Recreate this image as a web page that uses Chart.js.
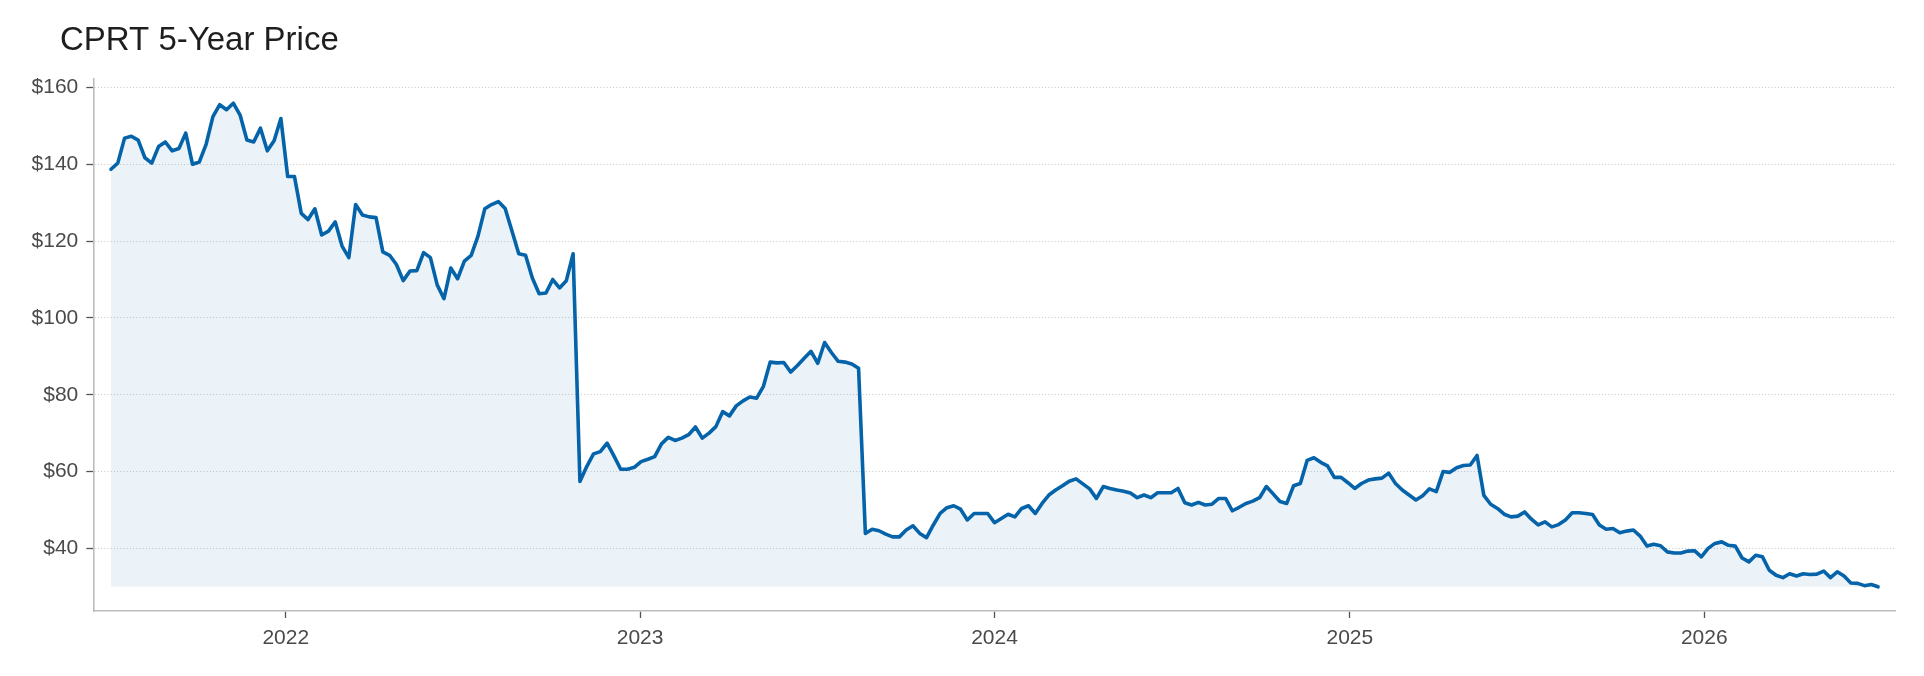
<!DOCTYPE html>
<html>
<head>
<meta charset="utf-8">
<script src="https://cdn.jsdelivr.net/npm/chart.js@4.4.1/dist/chart.umd.min.js"></script>
<style>
html,body{margin:0;padding:0;background:#ffffff;overflow:hidden;}
canvas{display:block;}
</style>
</head>
<body>
<canvas id="c" width="1924" height="676"></canvas>
<script>
// ---- data (weekly closes) ----
const TITLE = 'CPRT 5-Year Price';
const START_DATE = '2021-07-05'; // first weekly observation
const prices = [
  138.7,140.3,146.8,147.3,146.3,141.7,140.3,144.6,145.8,143.5,
  144.1,148.1,140.0,140.6,145.2,152.4,155.5,154.2,155.9,152.8,
  146.3,145.8,149.4,143.5,146.1,151.9,136.8,136.8,127.2,125.6,
  128.4,121.6,122.6,125.0,118.7,115.7,129.5,126.8,126.3,126.1,
  117.2,116.3,113.9,109.7,112.2,112.3,117.0,115.7,108.6,105.0,
  113.0,110.2,114.8,116.3,121.3,128.4,129.5,130.3,128.5,122.6,
  116.7,116.3,110.4,106.3,106.5,110.0,107.8,109.7,116.7,57.4,
  61.3,64.6,65.2,67.4,64.1,60.6,60.6,61.1,62.6,63.2,
  63.9,67.2,68.9,68.1,68.7,69.6,71.6,68.7,70.0,71.7,
  75.6,74.5,77.1,78.4,79.4,79.1,82.2,88.5,88.3,88.4,
  85.9,87.6,89.5,91.3,88.2,93.6,91.0,88.7,88.5,88.0,
  86.9,43.9,45.0,44.6,43.7,43.0,43.0,44.8,45.9,43.9,
  42.8,46.1,49.1,50.6,51.1,50.2,47.4,49.1,49.1,49.1,
  46.7,47.8,48.9,48.2,50.4,51.1,49.1,51.7,53.9,55.2,
  56.3,57.5,58.1,56.8,55.5,53.0,56.1,55.6,55.2,54.9,
  54.4,53.2,53.9,53.2,54.5,54.5,54.5,55.6,51.9,51.3,
  52.0,51.3,51.5,53.0,53.0,49.8,50.7,51.7,52.3,53.2,
  56.1,54.2,52.2,51.7,56.3,56.9,62.9,63.6,62.4,61.5,
  58.5,58.5,57.1,55.6,56.9,57.8,58.1,58.3,59.6,56.9,
  55.2,53.9,52.6,53.7,55.5,54.8,60.0,59.8,61.0,61.6,
  61.7,64.2,53.8,51.5,50.4,48.9,48.2,48.4,49.5,47.6,
  46.1,46.9,45.6,46.2,47.4,49.3,49.3,49.1,48.8,46.1,
  45.0,45.2,44.1,44.5,44.8,43.2,40.6,41.1,40.7,39.1,
  38.8,38.8,39.3,39.4,37.8,40.0,41.3,41.7,40.8,40.6,
  37.5,36.5,38.2,37.8,34.3,33.0,32.4,33.4,32.8,33.4,
  33.2,33.3,34.1,32.4,33.9,32.8,31.0,30.9,30.3,30.6,
  30.0
];
const yearTicks = [2022, 2023, 2024, 2025, 2026];
const priceTicks = [40, 60, 80, 100, 120, 140, 160];

// ---- build points ----
const DAY = 86400000;
const t0 = Date.parse(START_DATE + 'T00:00:00Z');
const points = prices.map((p, i) => ({ x: t0 + i * 7 * DAY, y: p }));

const xFirst = points[0].x, xLast = points[points.length - 1].x;
const xPad = (xLast - xFirst) * 0.01;
const pMin = Math.min(...prices), pMax = Math.max(...prices);
const yPad = (pMax - pMin) * 0.05;

const FONT = '"Liberation Sans", Arial, Helvetica, sans-serif';
Chart.defaults.font.family = FONT;
Chart.defaults.color = '#4a4a4a';

// figure-level title, left-aligned to the figure margin (left of the axes)
const figTitle = {
  id: 'figTitle',
  afterDraw(chart, args, opts) {
    const ctx = chart.ctx;
    ctx.save();
    ctx.font = opts.size + 'px ' + FONT;
    ctx.fillStyle = opts.color;
    ctx.textAlign = 'left';
    ctx.textBaseline = 'middle';
    ctx.fillText(opts.text, opts.x, opts.y);
    ctx.restore();
  }
};

new Chart(document.getElementById('c'), {
  type: 'line',
  data: {
    datasets: [{
      data: points,
      borderColor: '#0563aa',
      borderWidth: 3.6,
      backgroundColor: 'rgba(5, 99, 170, 0.08)',
      fill: { value: pMin },
      pointRadius: 0,
      pointHoverRadius: 0,
      tension: 0,
      borderJoinStyle: 'round',
      borderCapStyle: 'round'
    }]
  },
  plugins: [figTitle],
  options: {
    responsive: false,
    animation: false,
    devicePixelRatio: 1,
    layout: { padding: { left: 0, right: 28.3, top: 79, bottom: 0 } },
    plugins: {
      legend: { display: false },
      tooltip: { enabled: false },
      title: { display: false },
      figTitle: { text: TITLE, x: 60, y: 41, size: 33, color: '#1e1e1e' }
    },
    scales: {
      x: {
        type: 'linear',
        min: xFirst - xPad,
        max: xLast + xPad,
        afterBuildTicks: (scale) => {
          scale.ticks = yearTicks.map(y => ({ value: Date.UTC(y, 0, 1) }));
        },
        afterFit: (scale) => { scale.height = 65; },
        ticks: {
          autoSkip: false,
          maxRotation: 0,
          padding: 8,
          color: '#4a4a4a',
          font: { size: 21 },
          callback: (v) => String(new Date(v).getUTCFullYear())
        },
        grid: {
          display: true,
          drawOnChartArea: false,
          drawTicks: true,
          tickLength: 7,
          tickColor: '#555555',
          tickWidth: 1.3
        },
        border: { display: true, color: '#bdbdbd', width: 1.6 }
      },
      y: {
        type: 'linear',
        min: pMin - yPad,
        max: pMax + yPad,
        afterBuildTicks: (scale) => {
          scale.ticks = priceTicks.map(v => ({ value: v }));
        },
        afterFit: (scale) => { scale.width = 93.3; },
        ticks: {
          autoSkip: false,
          padding: 8,
          color: '#4a4a4a',
          font: { size: 21 },
          callback: (v) => '$' + v
        },
        grid: {
          display: true,
          drawOnChartArea: true,
          color: '#c8c8c8',
          lineWidth: 1,
          drawTicks: true,
          tickLength: 7,
          tickColor: '#555555',
          tickWidth: 1.3
        },
        border: { display: true, color: '#bdbdbd', width: 1.6, dash: [1, 2.2] }
      }
    }
  }
});
</script>
</body>
</html>
